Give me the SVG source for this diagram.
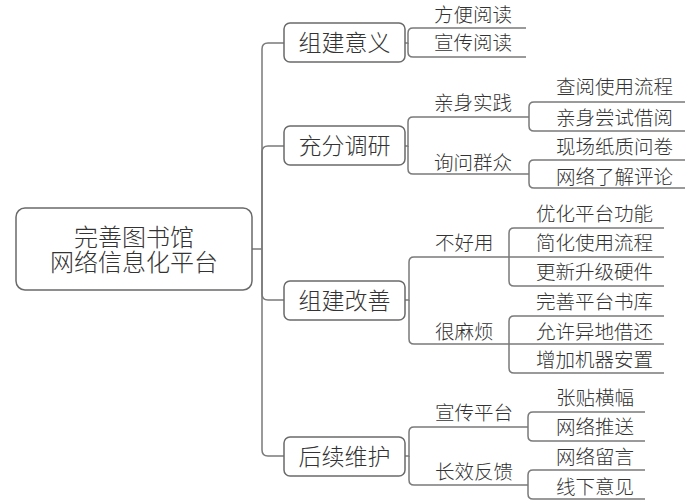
<svg xmlns="http://www.w3.org/2000/svg" width="700" height="504" viewBox="0 0 700 504">
<style>
.box{fill:#fff;stroke:#6a6a6a;stroke-width:1.5}
.ln{fill:none;stroke:#7a7a7a;stroke-width:1.5}
text{font-family:"Noto Sans CJK SC","Microsoft YaHei",sans-serif;fill:#333;font-weight:300}
.r{font-size:24px;text-anchor:middle}
.n{font-size:23px;text-anchor:middle}
.l{font-size:19.5px}
</style>
<rect width="700" height="504" fill="#fff"/>
<g id="connectors">
<path class="ln" d="M252,249 H262"/>
<path class="ln" d="M262,249 V49 Q262,43 268,43 H284"/>
<path class="ln" d="M262,249 V152 Q262,146 268,146 H284"/>
<path class="ln" d="M262,249 V294 Q262,300 268,300 H284"/>
<path class="ln" d="M262,249 V450 Q262,456 268,456 H284"/>
<path class="ln" d="M405,43 H408 V33 Q408,28 413,28 H526"/>
<path class="ln" d="M408,43 V52 Q408,57 413,57 H526"/>
<path class="ln" d="M405,146 H408 V122 Q408,117 413,117 H529"/>
<path class="ln" d="M408,146 V169 Q408,174 413,174 H529"/>
<path class="ln" d="M529,117 V107 Q529,102 534,102 H685"/>
<path class="ln" d="M529,117 V126 Q529,131 534,131 H685"/>
<path class="ln" d="M529,174 V165 Q529,160 534,160 H685"/>
<path class="ln" d="M529,174 V183 Q529,188 534,188 H685"/>
<path class="ln" d="M405,300 H409 V262 Q409,257 414,257 H509"/>
<path class="ln" d="M409,300 V339 Q409,344 414,344 H509"/>
<path class="ln" d="M509,257 V233 Q509,228 514,228 H664"/>
<path class="ln" d="M509,257 H664"/>
<path class="ln" d="M509,257 V281 Q509,286 514,286 H664"/>
<path class="ln" d="M509,344 V321 Q509,316 514,316 H664"/>
<path class="ln" d="M509,344 H664"/>
<path class="ln" d="M509,344 V368 Q509,373 514,373 H664"/>
<path class="ln" d="M405,456 H409 V432 Q409,427 414,427 H528"/>
<path class="ln" d="M409,456 V480 Q409,485 414,485 H528"/>
<path class="ln" d="M528,427 V417 Q528,412 533,412 H645"/>
<path class="ln" d="M528,427 V436 Q528,441 533,441 H645"/>
<path class="ln" d="M528,485 V475 Q528,470 533,470 H645"/>
<path class="ln" d="M528,485 V494 Q528,499 533,499 H645"/>
</g>
<g id="root">
<rect class="box" x="16" y="208" width="236" height="82" rx="9"/>
<text class="r" x="134" y="245.5">完善图书馆</text>
<text class="r" x="134" y="270.5">网络信息化平台</text>
</g>
<g id="n1">
<rect class="box" x="284" y="23" width="121" height="39" rx="6"/>
<text class="n" x="344.5" y="51">组建意义</text>
</g>
<g id="n1a"><text class="l" x="434" y="22">方便阅读</text></g>
<g id="n1b"><text class="l" x="434" y="50">宣传阅读</text></g>
<g id="n2">
<rect class="box" x="284" y="126" width="121" height="39" rx="6"/>
<text class="n" x="344.5" y="154">充分调研</text>
</g>
<g id="n2a"><text class="l" x="434" y="110">亲身实践</text></g>
<g id="n2a1"><text class="l" x="556" y="94">查阅使用流程</text></g>
<g id="n2a2"><text class="l" x="556" y="125">亲身尝试借阅</text></g>
<g id="n2b"><text class="l" x="434" y="170">询问群众</text></g>
<g id="n2b1"><text class="l" x="556" y="154">现场纸质问卷</text></g>
<g id="n2b2"><text class="l" x="556" y="184">网络了解评论</text></g>
<g id="n3">
<rect class="box" x="284" y="281" width="121" height="39" rx="6"/>
<text class="n" x="344.5" y="309">组建改善</text>
</g>
<g id="n3a"><text class="l" x="435" y="250">不好用</text></g>
<g id="n3a1"><text class="l" x="536" y="221">优化平台功能</text></g>
<g id="n3a2"><text class="l" x="536" y="250">简化使用流程</text></g>
<g id="n3a3"><text class="l" x="536" y="279">更新升级硬件</text></g>
<g id="n3b"><text class="l" x="435" y="339">很麻烦</text></g>
<g id="n3b1"><text class="l" x="536" y="309">完善平台书库</text></g>
<g id="n3b2"><text class="l" x="536" y="339">允许异地借还</text></g>
<g id="n3b3"><text class="l" x="536" y="367">增加机器安置</text></g>
<g id="n4">
<rect class="box" x="284" y="437" width="121" height="39" rx="6"/>
<text class="n" x="344.5" y="465">后续维护</text>
</g>
<g id="n4a"><text class="l" x="435" y="420">宣传平台</text></g>
<g id="n4a1"><text class="l" x="556" y="405">张贴横幅</text></g>
<g id="n4a2"><text class="l" x="556" y="434">网络推送</text></g>
<g id="n4b"><text class="l" x="435" y="479">长效反馈</text></g>
<g id="n4b1"><text class="l" x="556" y="464">网络留言</text></g>
<g id="n4b2"><text class="l" x="556" y="494">线下意见</text></g>
</svg>
